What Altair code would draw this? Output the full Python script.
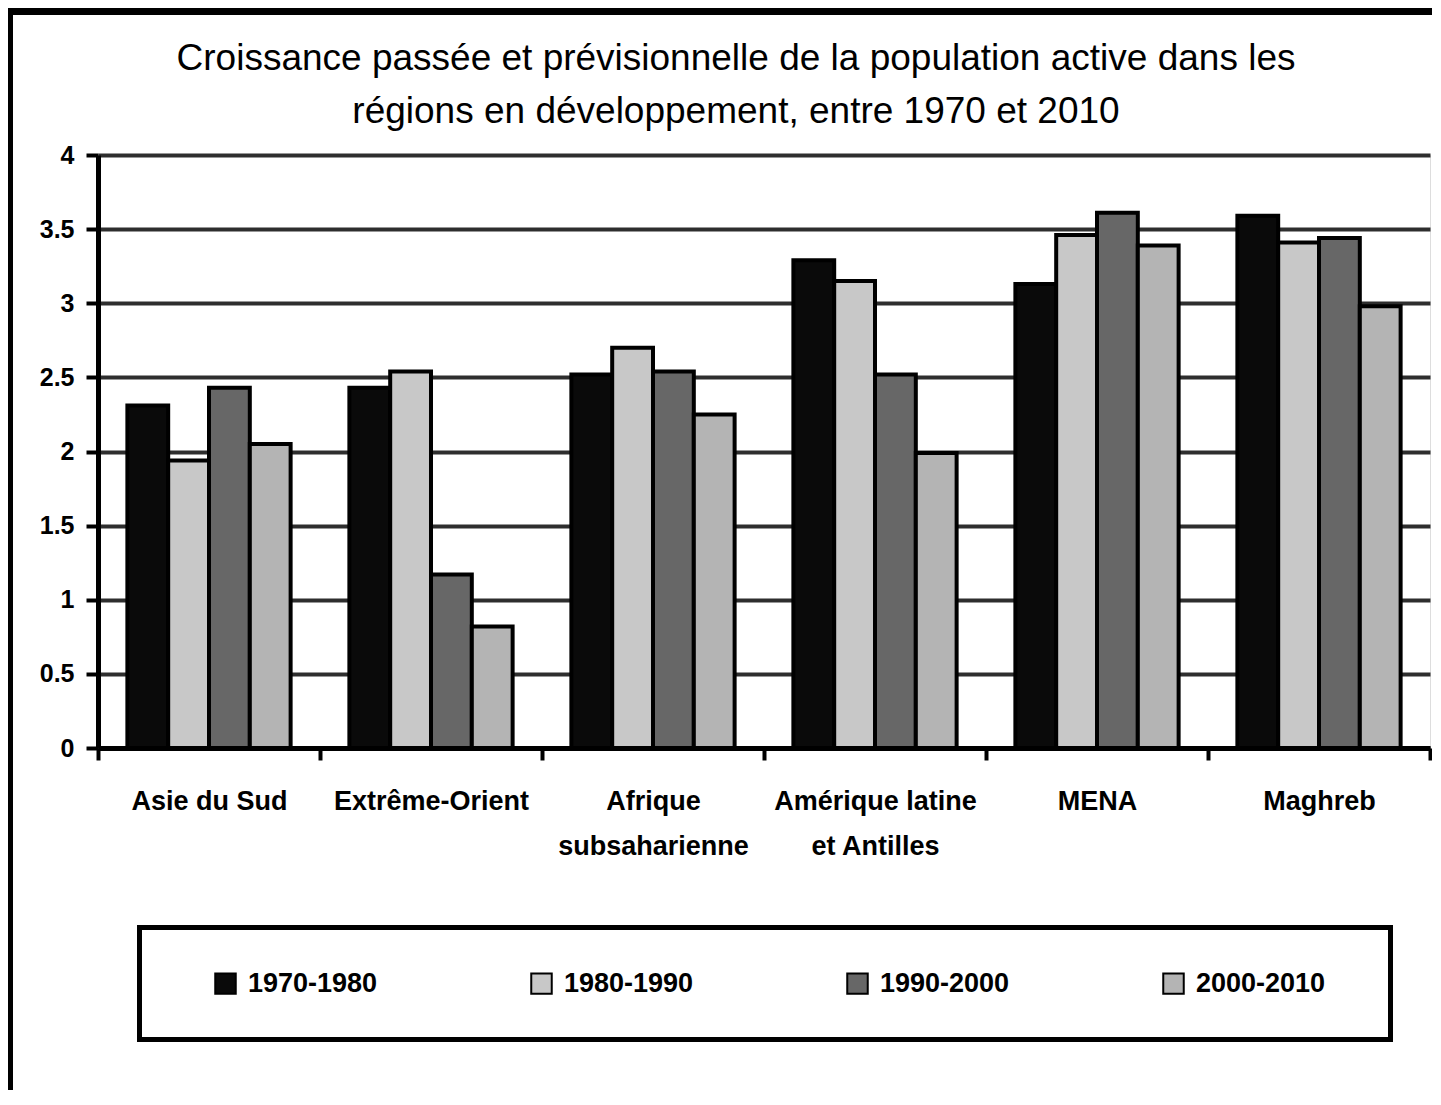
import altair as alt
import pandas as pd

regions = ["Asie du Sud", "Extrême-Orient", "Afrique subsaharienne",
           "Amérique latine et Antilles", "MENA", "Maghreb"]
periods = ["1970-1980", "1980-1990", "1990-2000", "2000-2010"]
v_1970_1980 = [2.31, 2.43, 2.52, 3.29, 3.13, 3.59]
v_1980_1990 = [1.94, 2.54, 2.70, 3.15, 3.46, 3.41]
v_1990_2000 = [2.43, 1.17, 2.54, 2.52, 3.61, 3.44]
v_2000_2010 = [2.05, 0.82, 2.25, 1.99, 3.39, 2.98]
colors = ["#0a0a0a", "#c8c8c8", "#676767", "#b4b4b4"]
y_ticks = [0, 0.5, 1, 1.5, 2, 2.5, 3, 3.5, 4]
title_lines = ["Croissance passée et prévisionnelle de la population active dans les",
               "régions en développement, entre 1970 et 2010"]

rows = []
for p, vals in zip(periods, [v_1970_1980, v_1980_1990, v_1990_2000, v_2000_2010]):
    for r, v in zip(regions, vals):
        rows.append({"region": r, "period": p, "value": v})
df = pd.DataFrame(rows)
one = pd.DataFrame({"k": [0]})

FONT = "Liberation Sans"
W, H = 1332, 593

label_expr = ("datum.label == 'Afrique subsaharienne' ? ['Afrique', 'subsaharienne'] : "
              "datum.label == 'Amérique latine et Antilles' ? ['Amérique latine', 'et Antilles'] : datum.label")

bars = alt.Chart(df).mark_bar(stroke="black", strokeWidth=4).encode(
    x=alt.X("region:N", sort=regions,
            scale=alt.Scale(paddingInner=0, paddingOuter=0),
            axis=alt.Axis(title=None, labelAngle=0, tickBand="extent", tickSize=12, tickWidth=4,
                          tickColor="black", domainColor="black", domainWidth=5,
                          labelFont=FONT, labelFontSize=27, labelFontWeight="bold", labelColor="black",
                          labelPadding=28, labelLineHeight=45, labelExpr=label_expr,
                          labelLimit=0, labelOverlap=False, grid=False)),
    xOffset=alt.XOffset("period:N", sort=periods,
                        scale=alt.Scale(paddingInner=0, paddingOuter=0.72)),
    y=alt.Y("value:Q", scale=alt.Scale(domain=[0, 4], nice=False),
            axis=alt.Axis(title=None, values=y_ticks, format="~g", grid=True,
                          gridColor="#2e2e2e", gridWidth=4,
                          tickSize=12, tickWidth=4, tickColor="black",
                          domainColor="black", domainWidth=5,
                          labelFont=FONT, labelFontSize=25, labelFontWeight="bold",
                          labelColor="black", labelPadding=12)),
    color=alt.Color("period:N", sort=periods,
                    scale=alt.Scale(domain=periods, range=colors),
                    legend=alt.Legend(title=None, orient="none", legendX=114, legendY=815,
                                      direction="horizontal", columns=4, columnPadding=149,
                                      symbolType="square", symbolSize=420,
                                      symbolStrokeColor="black", symbolStrokeWidth=2,
                                      labelFont=FONT, labelFontSize=27, labelFontWeight="bold",
                                      labelColor="black", labelOffset=9, labelLimit=0,
                                      padding=0)),
)

frame_left = alt.Chart(one).mark_rect(color="black").encode(
    x=alt.value(-90), x2=alt.value(-85), y=alt.value(-147), y2=alt.value(935))
frame_top = alt.Chart(one).mark_rect(color="black").encode(
    x=alt.value(-90), x2=alt.value(1334), y=alt.value(-147), y2=alt.value(-140))
legend_box = alt.Chart(one).mark_rect(filled=False, color="black", strokeWidth=5).encode(
    x=alt.value(41.5), x2=alt.value(1292.5), y=alt.value(772.5), y2=alt.value(884.5))

chart = alt.layer(frame_left, frame_top, bars, legend_box).properties(
    width=W, height=H, padding=0,
    title=alt.TitleParams(text=title_lines, font=FONT, fontSize=37, fontWeight="normal",
                          color="black", lineHeight=53, anchor="middle", frame="group",
                          offset=-123, dx=-28),
).configure_view(stroke="black", strokeWidth=5, fill="#fafafa").configure(background="white")

chart.save("out.html", embed_options={"renderer": "svg", "actions": False})
